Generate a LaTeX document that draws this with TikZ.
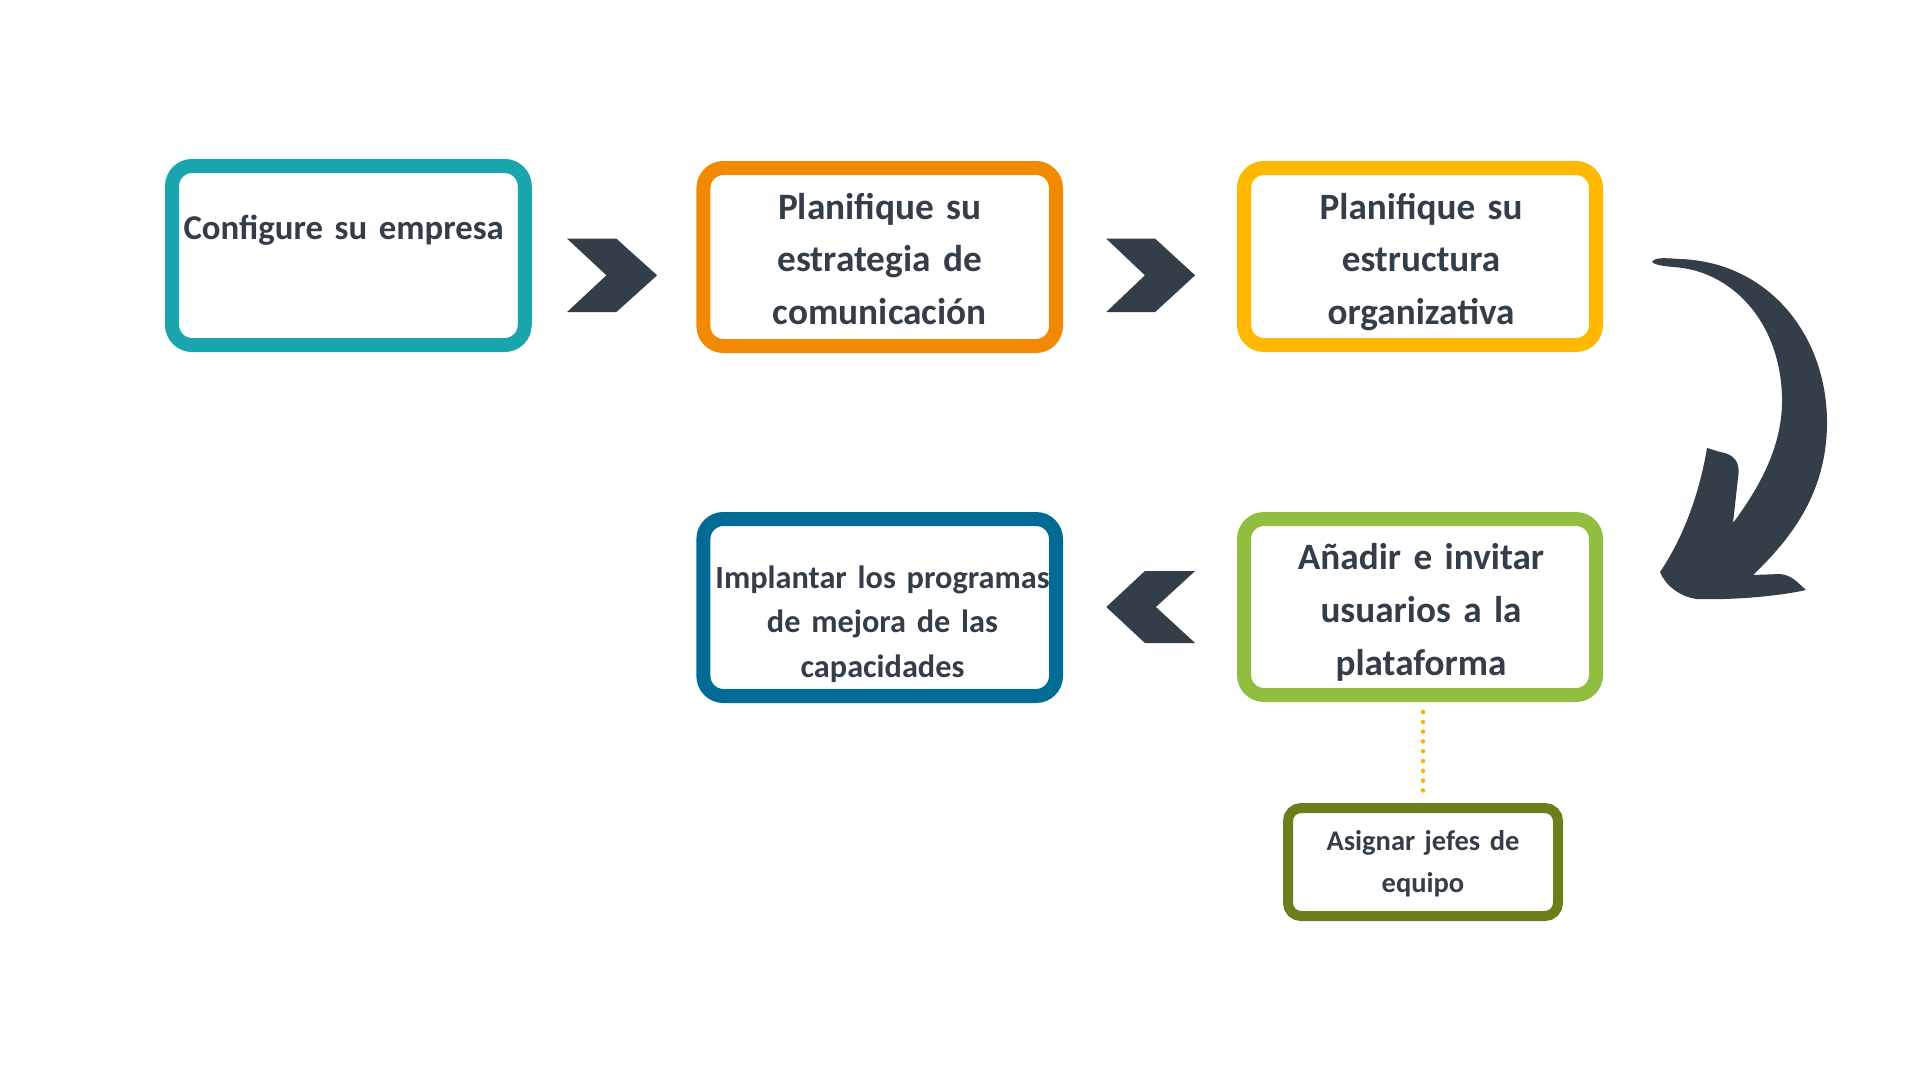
\documentclass[tikz,border=0pt]{standalone}
\usepackage{fontspec}
\setmainfont{Carlito}
\definecolor{cteal}{HTML}{19A4AE}
\definecolor{corange}{HTML}{F18A00}
\definecolor{cyellow}{HTML}{FFB700}
\definecolor{cblue}{HTML}{006C96}
\definecolor{cgreen}{HTML}{92BE3F}
\definecolor{colive}{HTML}{6A7F1C}
\definecolor{cdark}{HTML}{343E49}
\definecolor{cdot}{HTML}{FFB300}
\tikzset{
  stepbox/.style={draw=#1, line width=14pt, rounded corners=20pt, fill=white, inner sep=0pt},
  txt/.style={text=cdark, font=\bfseries\fontsize{#1}{#1}\selectfont, align=center, text width=380pt, inner sep=0pt, anchor=base},
  chev/.style={fill=cdark, draw=none},
}
\begin{document}
\begin{tikzpicture}[x=1pt,y=-1pt]
\useasboundingbox (0,0) rectangle (1920,1080);
% boxes
\node[stepbox=cteal, minimum width=352.7pt, minimum height=179pt] (b1) at (348.4,255.5) {};
\node[stepbox=corange, minimum width=352.6pt, minimum height=178pt] (b2) at (879.7,257) {};
\node[stepbox=cyellow, minimum width=352pt, minimum height=177pt] (b3) at (1420,256.5) {};
\node[stepbox=cgreen, minimum width=352pt, minimum height=176pt] (b4) at (1420,607) {};
\node[stepbox=cblue, minimum width=352.6pt, minimum height=177pt] (b5) at (879.7,607.5) {};
\node[stepbox=colive, line width=10pt, rounded corners=13pt, minimum width=270pt, minimum height=108pt] (b6) at (1423,862) {};
% texts
\node[txt=34.8] (t1) at (343.7,239) {Configure su empresa};
\node[txt=37.3, font=\bfseries\fontsize{37.3}{52.7}\selectfont] (t2) at (879.8,219) {Planifique su\\estrategia de\\comunicación};
\node[txt=37.2, font=\bfseries\fontsize{37.2}{52.5}\selectfont] (t3) at (1421,219) {Planifique su\\estructura\\organizativa};
\node[txt=37.2, font=\bfseries\fontsize{37.2}{53}\selectfont] (t4) at (1421,569) {Añadir e invitar\\usuarios a la\\plataforma};
\node[txt=32.3, font=\bfseries\fontsize{32.3}{44.5}\selectfont] (t5) at (882.5,588) {Implantar los programas\\de mejora de las\\capacidades};
\node[txt=28.5, font=\bfseries\fontsize{28.5}{42}\selectfont] (t6) at (1423,850) {Asignar jefes de\\equipo};
% chevrons
\fill[chev] (567.1,238.7) -- (616.4,238.7) -- (657.1,275.3) -- (616.4,312) -- (567.1,312) -- (606.4,275.3) -- cycle;
\fill[chev] (1106.3,238.7) -- (1155.2,238.7) -- (1195.1,275.3) -- (1155.2,312) -- (1106.3,312) -- (1144.9,275.3) -- cycle;
\fill[chev] (1195.1,571) -- (1144.9,571) -- (1106.3,607) -- (1144.9,643) -- (1195.1,643) -- (1155.9,607) -- cycle;
% dotted link
\draw[cdot, line width=4.5pt, line cap=round, dash pattern=on 0pt off 9.8pt, shorten <=10pt, shorten >=9pt] (b6.north |- b4.south) -- (b6.north);
% curved arrow
\fill[cdark] (1652,262) .. controls (1655,257) and (1665,258) .. (1680,259)
  .. controls (1768,262) and (1828,335) .. (1827,425)
  .. controls (1826,490) and (1795,535) .. (1753,575)
  -- (1780,574) .. controls (1792,575) and (1798,583) .. (1806,590)
  .. controls (1770,598) and (1720,600) .. (1697,599)
  .. controls (1680,597) and (1665,585) .. (1660,572)
  .. controls (1685,535) and (1700,490) .. (1707,448)
  .. controls (1712,449) and (1718,452) .. (1725,453)
  .. controls (1737,457) and (1740,465) .. (1738,478)
  -- (1733,523)
  .. controls (1765,480) and (1783,440) .. (1782,397)
  .. controls (1780,320) and (1730,270) .. (1673,267)
  .. controls (1663,266) and (1655,265) .. cycle;
\end{tikzpicture}
\end{document}
